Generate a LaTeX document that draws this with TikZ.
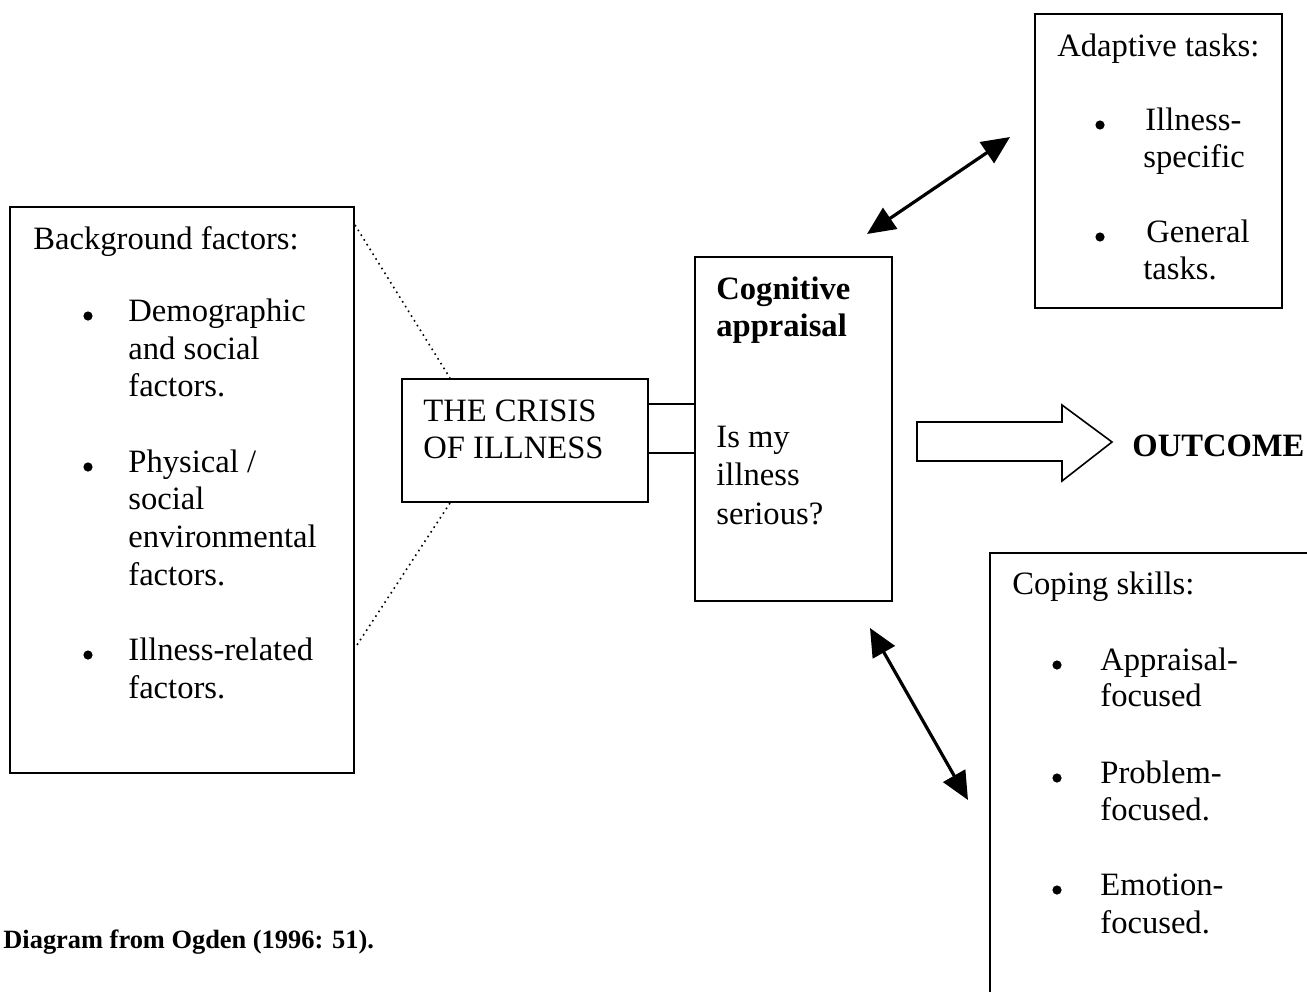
\documentclass[tikz,border=0pt]{standalone}
\usepackage{fontspec}
\setmainfont{Liberation Serif}
\usetikzlibrary{arrows.meta}
\begin{document}
\begin{tikzpicture}[x=0.5pt,y=-0.5pt,
  box/.style={draw, line width=1pt, inner sep=0pt},
  txt/.style={anchor=base west, inner sep=0pt, font=\fontsize{16.3}{19}\selectfont},
  btxt/.style={txt, font=\fontsize{16.3}{19}\selectfont\bfseries},
  bul/.style={circle, fill, inner sep=0pt, minimum size=4.6pt},
  dbl/.style={line width=1.6pt, {Triangle[length=14pt,width=12.5pt]}-{Triangle[length=14pt,width=12.5pt]}},
  dot/.style={dotted, line width=0.8pt}]
\useasboundingbox (0,0) rectangle (1307,991);
\clip (0,0) rectangle (1307,991);
% boxes
\node[box, minimum width=172pt, minimum height=283pt] (bg) at (182,490) {};
\node[box, minimum width=123pt, minimum height=61.5pt] (crisis) at (525,440.5) {};
\node[box, minimum width=98.5pt, minimum height=172pt] (cog) at (793.5,429) {};
\node[box, minimum width=123.5pt, minimum height=147pt] (adapt) at (1158.5,161) {};
\node[box, minimum width=180pt, minimum height=240pt] (cope) at (1170,793) {};
% background text
\node[txt] (bgt) at (33,249) {Background factors:};
\node[bul] (bgb1) at (88,316) {};
\node[txt] (bg1) at (128,321) {Demographic};
\node[txt] (bg2) at (128,359) {and social};
\node[txt] (bg3) at (128,396) {factors.};
\node[bul] (bgb2) at (88,467) {};
\node[txt] (bg4) at (128,472) {Physical /};
\node[txt] (bg5) at (128,509) {social};
\node[txt] (bg6) at (128,547) {environmental};
\node[txt] (bg7) at (128,585) {factors.};
\node[bul] (bgb3) at (88,655) {};
\node[txt] (bg8) at (128,660) {Illness-related};
\node[txt] (bg9) at (128,698) {factors.};
% crisis text
\node[txt] (cr1) at (423,421) {THE CRISIS};
\node[txt] (cr2) at (423,458) {OF ILLNESS};
% cognitive text
\node[btxt] (cg1) at (716,299) {Cognitive};
\node[btxt] (cg2) at (716,336) {appraisal};
\node[txt] (cg3) at (716,447) {Is my};
\node[txt] (cg4) at (716,485) {illness};
\node[txt] (cg5) at (716,524) {serious?};
% adaptive text
\node[txt] (ad0) at (1057,56) {Adaptive tasks:};
\node[bul] (adb1) at (1100,125) {};
\node[txt] (ad1) at (1145,130) {Illness-};
\node[txt] (ad2) at (1143,167) {specific};
\node[bul] (adb2) at (1100,237) {};
\node[txt] (ad3) at (1146,242) {General};
\node[txt] (ad4) at (1143,279) {tasks.};
% coping text
\node[txt] (cp0) at (1012,594) {Coping skills:};
\node[bul] (cpb1) at (1057,665) {};
\node[txt] (cp1) at (1100,670) {Appraisal-};
\node[txt] (cp2) at (1100,706) {focused};
\node[bul] (cpb2) at (1057,778) {};
\node[txt] (cp3) at (1100,783) {Problem-};
\node[txt] (cp4) at (1100,820) {focused.};
\node[bul] (cpb3) at (1057,890) {};
\node[txt] (cp5) at (1100,895) {Emotion-};
\node[txt] (cp6) at (1100,933) {focused.};
% outcome
\node[btxt] (out) at (1132,456) {OUTCOME};
% caption
\node[anchor=base west, inner sep=0pt, font=\fontsize{13.2}{15}\selectfont\bfseries] (cap) at (3,948) {Diagram from Ogden (1996: 51).};
% dotted connectors
\coordinate (d1) at (bg.north east |- 0,225);
\coordinate (d2) at (crisis.north west -| 450,0);
\coordinate (d3) at (crisis.south west -| 450,0);
\coordinate (d4) at (bg.north east |- 0,648);
\draw[dot] (d1) -- (d2);
\draw[dot] (d3) -- (d4);
% crisis to cognitive
\draw[line width=1pt] (crisis.east |- 0,404) -- (cog.west |- 0,404);
\draw[line width=1pt] (crisis.east |- 0,453) -- (cog.west |- 0,453);
% double arrows
\coordinate (ua1) at (867,234);
\coordinate (ua2) at (1010,137);
\draw[dbl] (ua1) -- (ua2);
\coordinate (la1) at (870,628);
\coordinate (la2) at (968,800);
\draw[dbl] (la1) -- (la2);
% outcome block arrow
\draw[line width=0.8pt, line join=miter] (917,422) -- (1062,422) -- (1062,405) -- (1112,442) -- (1062,481) -- (1062,461) -- (917,461) -- cycle;
\end{tikzpicture}
\end{document}
